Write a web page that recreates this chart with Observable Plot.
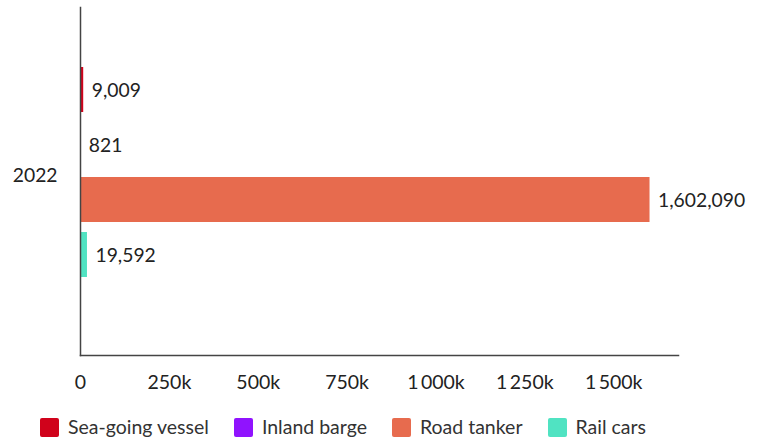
<!DOCTYPE html>
<html>
<head>
<meta charset="utf-8">
<script src="https://cdn.jsdelivr.net/npm/d3@7"></script>
<script src="https://cdn.jsdelivr.net/npm/@observablehq/plot@0.6"></script>
<style>
  body { margin: 0; background: #fff; font-family: Lato, sans-serif; }
  #legend { display: flex; gap: 25px; padding-left: 40px; margin-top: 17px; font-size: 19.5px; color: #333; line-height: 20px; }
  .item { display: flex; align-items: center; }
  .sw { width: 19px; height: 19px; border-radius: 2px; margin-right: 9px; }
</style>
</head>
<body>
<div id="chart"></div>
<div id="legend"></div>
<script>
const years = ["2022"];
const series = ["Sea-going vessel", "Inland barge", "Road tanker", "Rail cars"];
const values = [9009, 821, 1602090, 19592];
const colors = ["#d0021b", "#9013fe", "#e76b4e", "#50e3c2"];
const xTicks = [0, 250000, 500000, 750000, 1000000, 1250000, 1500000];

const data = series.map((s, i) => ({year: years[0], series: s, value: values[i]}));
const loc = d3.formatLocale({decimal: ".", thousands: "\u2009", grouping: [3], currency: ["", ""]});
const kfmt = loc.format(",");
const vfmt = d3.format(",");

const plot = Plot.plot({
  width: 760,
  height: 400,
  marginLeft: 80,
  marginRight: 82,
  marginTop: 7,
  marginBottom: 45,
  style: {fontFamily: "Lato, sans-serif", fontSize: "19.5px", color: "#222"},
  x: {domain: [0, d3.max(values) * 1.05], ticks: xTicks, tickFormat: d => d === 0 ? "0" : kfmt(d / 1000) + "k", tickSize: 0, tickPadding: 20, label: null},
  y: {domain: series, range: [66, 277], paddingInner: 0.186, paddingOuter: 0, axis: null},
  color: {domain: series, range: colors},
  marks: [
    Plot.barX(data, {x: "value", y: "series", fill: "series"}),
    Plot.text(data, {x: "value", y: "series", text: d => vfmt(d.value), textAnchor: "start", dx: 8, dy: 1, fill: "#222", fontSize: 19.3}),
    Plot.text(years, {text: d => d, frameAnchor: "left", textAnchor: "end", dx: -23, dy: -6, fill: "#222", fontSize: 19.3}),
    Plot.frame({anchor: "left", stroke: "#444", strokeWidth: 1.5}),
    Plot.frame({anchor: "bottom", stroke: "#444", strokeWidth: 1.5})
  ]
});
document.getElementById("chart").appendChild(plot);

const legend = document.getElementById("legend");
series.forEach((s, i) => {
  const item = document.createElement("div");
  item.className = "item";
  const sw = document.createElement("div");
  sw.className = "sw";
  sw.style.background = colors[i];
  const label = document.createElement("span");
  label.textContent = s;
  item.appendChild(sw);
  item.appendChild(label);
  legend.appendChild(item);
});
</script>
</body>
</html>
